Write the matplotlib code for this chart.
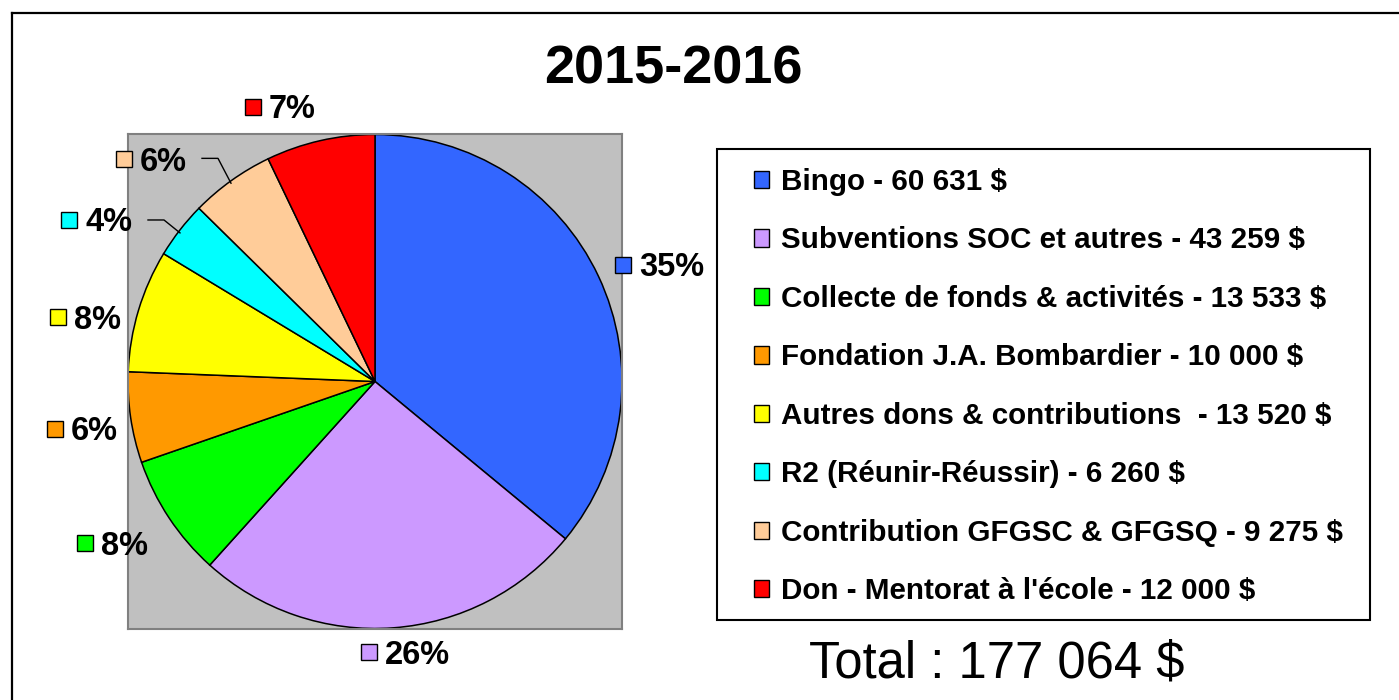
import numpy as np
import matplotlib
matplotlib.use('Agg')
import matplotlib.pyplot as plt
from matplotlib.patches import Patch, Rectangle
from matplotlib.lines import Line2D

plt.rcParams['font.family'] = ['Liberation Sans', 'DejaVu Sans']

# data
categories = ['Bingo', 'Subventions SOC et autres', 'Collecte de fonds & activités',
              'Fondation J.A. Bombardier', 'Autres dons & contributions ',
              'R2 (Réunir-Réussir)', 'Contribution GFGSC & GFGSQ', "Don - Mentorat à l'école"]
amounts = [60631, 43259, 13533, 10000, 13520, 6260, 9275, 12000]
amount_labels = ['60 631 $', '43 259 $', '13 533 $', '10 000 $', '13 520 $',
                 '6 260 $', '9 275 $', '12 000 $']
pct_labels = ['35%', '26%', '8%', '6%', '8%', '4%', '6%', '7%']
title = '2015-2016'
total_text = 'Total : 177 064 $'

colors = ['#3366FF', '#CC99FF', '#00FF00', '#FF9900', '#FFFF00', '#00FFFF', '#FFCC99', '#FF0000']

# label positions (pixels of square marker centre)
label_px = [(623, 264), (369, 654), (85, 544), (55, 429), (58, 317), (69, 219), (124, 158), (253, 105)]
leaders = {5: [(148, 219), (164, 219), (180, 232)],
           6: [(202, 157), (218, 157), (231, 182)]}

W, H = 1399, 700
fig = plt.figure(figsize=(W / 100, H / 100), dpi=100)

# outer border (top and left only visible)
fig.add_artist(Line2D([12 / W, 12 / W], [0, 1 - 13 / H], color='black', lw=1.6))
fig.add_artist(Line2D([12 / W, 1], [1 - 13 / H, 1 - 13 / H], color='black', lw=1.6))

ax = fig.add_axes([128 / W, 1 - 630 / H, 494 / W, 497 / H])
ax.set_facecolor('#C0C0C0')
ax.pie(amounts, colors=colors, startangle=90, counterclock=False, radius=1.0,
       frame=True, wedgeprops=dict(edgecolor='black', linewidth=1.1))
ax.set_xlim(-1.0, 1.0)
ax.set_ylim(-1.0, 1.0)
ax.set_xticks([])
ax.set_yticks([])
for s in ax.spines.values():
    s.set_color('#808080')
    s.set_linewidth(1.5)


def to_data(px, py):
    return (px - 375) / 247.0, (381.5 - py) / 248.5


for i, (px, py) in enumerate(label_px):
    x, y = to_data(px, py)
    ax.plot([x], [y], marker='s', markersize=12.2, markerfacecolor=colors[i],
            markeredgecolor='black', markeredgewidth=1.0, clip_on=False, zorder=5)
    tx, ty = to_data(px + 16, py + 3)
    ax.text(tx, ty, pct_labels[i], fontsize=23.5, fontweight='bold', ha='left',
            va='center', clip_on=False)

for k, pts in leaders.items():
    xs, ys = zip(*[to_data(p, q) for p, q in pts])
    ax.plot(xs, ys, color='black', lw=1.0, clip_on=False)

fig.text(673 / W, 1 - 70 / H, title, fontsize=39, fontweight='bold', ha='center', va='center')
fig.text(997 / W, 1 - 664 / H, total_text, fontsize=36.5, ha='center', va='center')

# legend frame
fig.add_artist(Rectangle((717 / W, 1 - 620 / H), (1370 - 717) / W, (620 - 149) / H,
                         transform=fig.transFigure, facecolor='white', edgecolor='black',
                         lw=1.5, zorder=0))
handles = [Patch(facecolor=c, edgecolor='black', lw=1.0) for c in colors]
labels = [f'{c} - {a}' for c, a in zip(categories, amount_labels)]
fig.legend(handles, labels, loc='upper left', bbox_to_anchor=(754 / W, 1 - 168 / H),
           frameon=False, prop=dict(size=21.3, weight='bold'),
           handlelength=0.52, handleheight=0.52, handletextpad=0.4,
           labelspacing=1.03, borderpad=0.0, borderaxespad=0.0)

fig.savefig('out.png', dpi=100)
